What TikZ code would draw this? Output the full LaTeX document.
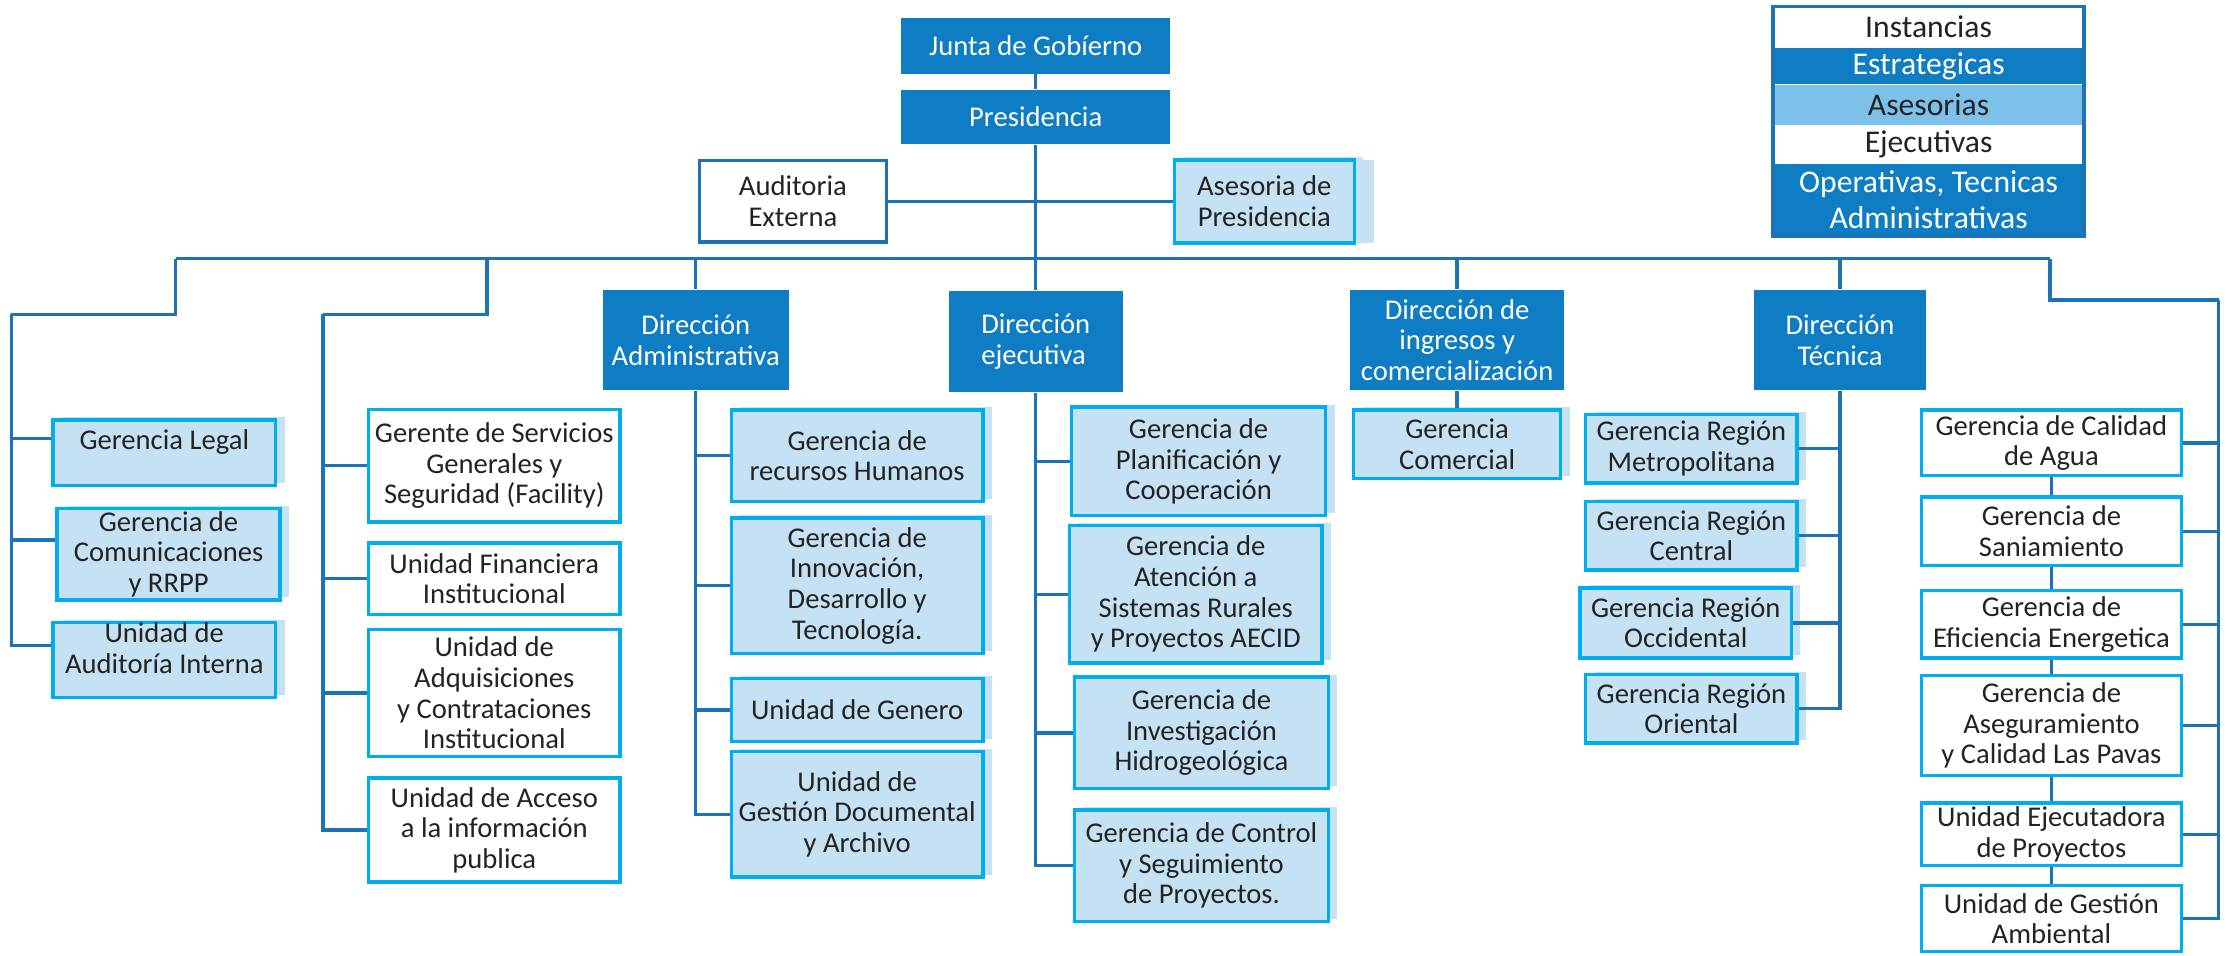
\documentclass[tikz,border=0pt]{standalone}
\usepackage{fontspec}
\setmainfont{Carlito}
\usetikzlibrary{positioning}
\definecolor{osc}{RGB}{15,125,195}
\definecolor{lin}{RGB}{30,115,180}
\definecolor{cla}{RGB}{197,226,244}
\definecolor{cia}{RGB}{0,174,239}
\definecolor{med}{RGB}{125,193,235}
\definecolor{txt}{RGB}{35,35,35}

\begin{document}
\begin{tikzpicture} [x=0.02cm, y=-0.02cm, %
  every node/.style={align=center, inner sep=0pt, text=txt, font=\fontsize{11.4}{12.2}\selectfont}, %
  box/.style 2 args={minimum width=#1*0.02cm, minimum height=#2*0.02cm}, %
  est/.style={fill=osc, text=white}, %
  ase/.style={fill=cla, draw=cia, line width=1.4pt, preaction={fill=cla, transform canvas={shift={(3.5pt,1pt)}}}}, %
  ejc/.style={fill=white, draw=cia, line width=1.4pt}, %
  leg/.style={minimum width=217*0.02cm, font=\fontsize{12.6}{14}\selectfont}, %
  con/.style={draw=lin, line width=1.4pt}] %
\useasboundingbox (0,0) rectangle (1568,669); %
% top
\node [est, box={188}{39}] (junta) at (725,32) {Junta de Gobíerno}; %
\node [est, box={188}{38}] (pres) at (725,82) {Presidencia}; %
\node [box={131}{57}, draw=lin, line width=1.4pt] (audext) at (555,141) {Auditoria\\Externa}; %
\node [ase, box={126}{58}, preaction={fill=cla, transform canvas={xshift=8pt}}] (asepre) at (885,141) {Asesoria de\\Presidencia}; %
% legend
\node [leg, minimum height=28*0.02cm, fill=white] (inst) at (1350,19) {Instancias}; %
\node [leg, est, minimum height=25*0.02cm, below=0pt of inst] (estr) {Estrategicas}; %
\node [leg, minimum height=28*0.02cm, fill=med, below=0pt of estr] (ases) {Asesorias}; %
\node [leg, minimum height=26*0.02cm, fill=white, below=0pt of ases] (ejec) {Ejecutivas}; %
\node [leg, est, minimum height=50*0.02cm, below=0pt of ejec] (oper) {Operativas, Tecnicas\\Administrativas}; %
\draw [lin, line width=1.4pt] (inst.north west) rectangle (oper.south east); %
% direcciones
\node [est, box={130}{70}] (adm) at (487,238) {Dirección\\Administrativa}; %
\node [est, box={122}{71}, align=left] (eje) at (725,239) {Dirección\\ejecutiva}; %
\node [est, box={150}{70}] (ing) at (1020,238) {Dirección de\\ingresos y\\comercialización}; %
\node [est, box={120}{70}] (tec) at (1288,238) {Dirección\\Técnica}; %
% columns
\node [ase, box={156}{46}, text depth=.36cm] (legal) at (115,317) {Gerencia Legal}; %
\node [ase, box={156}{64}] (com) at (118,388) {Gerencia de\\Comunicaciones\\y RRPP}; %
\node [ase, box={156}{48}, text depth=.34cm] (audint) at (115,462) {Unidad de\\Auditoría Interna}; %
\node [ejc, box={176}{79}] (serv) at (346,326) {Gerente de Servicios\\Generales y\\Seguridad (Facility)}; %
\node [ejc, box={176}{50}] (fin) at (346,405) {Unidad Financiera\\Institucional}; %
\node [ejc, box={176}{89}] (adq) at (346,485) {Unidad de\\Adquisiciones\\y Contrataciones\\Institucional}; %
\node [ejc, box={176}{73}] (acc) at (346,581) {Unidad de Acceso\\a la información\\publica}; %
\node [ase, box={176}{64}] (rrhh) at (600,319) {Gerencia de\\recursos Humanos}; %
\node [ase, box={176}{95}] (inn) at (600,410) {Gerencia de\\Innovación,\\Desarrollo y\\Tecnología.}; %
\node [ase, box={176}{44}] (gen) at (600,497) {Unidad de Genero}; %
\node [ase, box={176}{88}] (doc) at (600,570) {Unidad de\\Gestión Documental\\y Archivo}; %
\node [ase, box={178}{76}] (plan) at (839,323) {Gerencia de\\Planificación y\\Cooperación}; %
\node [ase, box={177}{96}] (aten) at (837,416) {Gerencia de\\Atención a\\Sistemas Rurales\\y Proyectos AECID}; %
\node [ase, box={178}{78}] (inv) at (841,513) {Gerencia de\\Investigación\\Hidrogeológica}; %
\node [ase, box={178}{78}] (ctrl) at (841,606) {Gerencia de Control\\y Seguimiento\\de Proyectos.}; %
\node [ase, box={145}{48}] (comer) at (1020,311) {Gerencia\\Comercial}; %
\node [ase, box={148}{48}] (met) at (1184,314) {Gerencia Región\\Metropolitana}; %
\node [ase, box={148}{48}] (cen) at (1184,375) {Gerencia Región\\Central}; %
\node [ase, box={148}{49}] (occ) at (1180,436) {Gerencia Región\\Occidental}; %
\node [ase, box={148}{48}] (ori) at (1184,496) {Gerencia Región\\Oriental}; %
\node [ejc, box={182}{46}] (cal) at (1436,310) {Gerencia de Calidad\\de Agua}; %
\node [ejc, box={182}{48}] (san) at (1436,372) {Gerencia de\\Saniamiento}; %
\node [ejc, box={182}{47}] (efi) at (1436,437) {Gerencia de\\Eficiencia Energetica}; %
\node [ejc, box={182}{70}] (aseg) at (1436,508) {Gerencia de\\Aseguramiento\\y Calidad Las Pavas}; %
\node [ejc, box={182}{44}] (uej) at (1436,584) {Unidad Ejecutadora\\de Proyectos}; %
\node [ejc, box={182}{46}] (uga) at (1436,643) {Unidad de Gestión\\Ambiental}; %
% lines
\coordinate (b1) at (123,181); %
\coordinate (k1) at (8,220); %
\coordinate (b2) at (341,181); %
\coordinate (k2) at (226,220); %
\coordinate (b7) at (1435,181); %
\coordinate (k7) at (1553,210); %
\draw [con] (b1) -- (b7); %
\draw [con] (b1) |- (k1); %
\draw [con] (b2) |- (k2); %
\draw [con] (b7) |- (k7); %
\draw [con] (junta) -- (pres); %
\draw [con] (pres) -- (eje); %
\draw [con] (audext) -- (asepre); %
\foreach \d in {adm,ing,tec} \draw [con] (\d.north |- b1) -- (\d.north); %
\foreach \n in {legal,com,audint} \draw [con] (k1) |- ([yshift=.2cm]\n.west); %
\foreach \n in {serv,fin,adq,acc} \draw [con] (k2) |- (\n.west); %
\foreach \n in {rrhh,inn,gen,doc} \draw [con] (adm) |- (\n.west); %
\foreach \n in {plan,aten,inv,ctrl} \draw [con] (eje) |- (\n.west); %
\draw [con] (ing) -- (comer); %
\foreach \n in {met,cen,occ,ori} \draw [con] (tec) |- (\n.east); %
\foreach \n in {cal,san,efi,aseg,uej,uga} \draw [con] (k7) |- (\n.east); %
\foreach \a/\b in {cal/san,san/efi,efi/aseg,aseg/uej,uej/uga} \draw [con] (\a) -- (\b); %
\end{tikzpicture}
\end{document}
